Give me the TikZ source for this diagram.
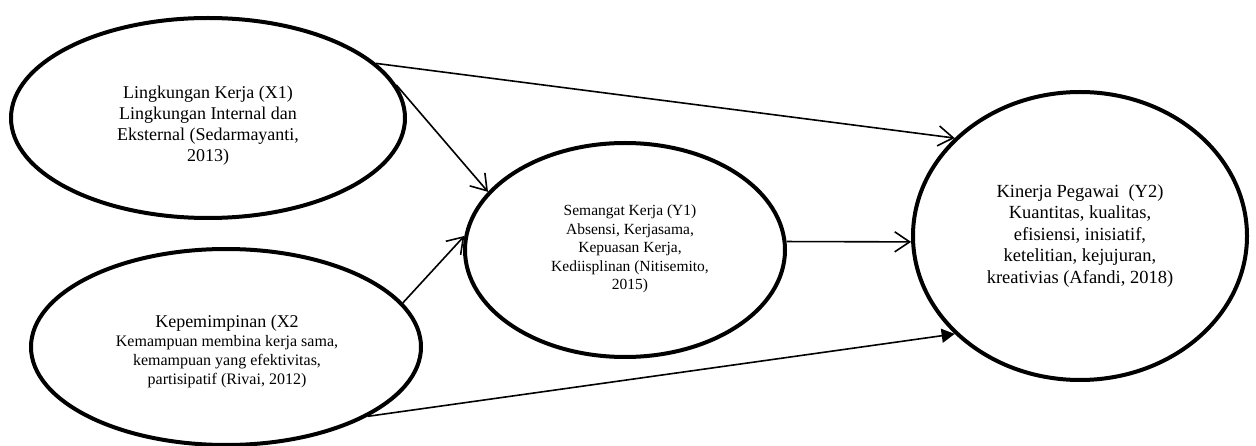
\documentclass[tikz,border=0pt]{standalone}
\usepackage{fontspec}
\setmainfont{Liberation Serif}
\usetikzlibrary{shapes.geometric,arrows.meta}
\tikzset{
  oval/.style={ellipse,draw=black,line width=4pt,inner sep=0pt,fill=white},
  lbl/.style={align=center,inner sep=0pt,text=black},
  link/.style={line width=1.6pt,-{Straight Barb[length=15pt,width=20pt,line width=1.6pt]}},
  linkfill/.style={line width=1.6pt,-{Triangle[length=13pt,width=14pt]}}
}
\begin{document}
\begin{tikzpicture}[x=1pt,y=-1pt]
\useasboundingbox (0,0) rectangle (1256,446);
% ellipses
\node[oval,minimum width=394pt,minimum height=200pt] (x1) at (208,118) {};
\node[oval,minimum width=390pt,minimum height=196pt] (x2) at (226,347) {};
\node[oval,minimum width=320pt,minimum height=214pt] (y1) at (625,250) {};
\node[oval,minimum width=334pt,minimum height=288pt] (y2) at (1080,236) {};
% texts
\node[lbl,font=\fontsize{18}{21}\selectfont] (x1t) at (208,126)
  {Lingkungan Kerja (X1)\\Lingkungan Internal dan\\Eksternal (Sedarmayanti,\\2013)};
\node[lbl,font=\fontsize{16}{19}\selectfont] (x2t) at (227,351)
  {{\fontsize{18}{20}\selectfont Kepemimpinan (X2}\\
   Kemampuan membina kerja sama,\\
   kemampuan yang efektivitas,\\
   partisipatif (Rivai, 2012)};
\node[lbl,font=\fontsize{15.5}{18.5}\selectfont] (y1t) at (630,249)
  {Semangat Kerja (Y1)\\Absensi, Kerjasama,\\Kepuasan Kerja,\\Kediisplinan (Nitisemito,\\2015)};
\node[lbl,font=\fontsize{18.5}{21.5}\selectfont] (y2t) at (1080,236)
  {Kinerja Pegawai \ (Y2)\\Kuantitas, kualitas,\\efisiensi, inisiatif,\\ketelitian, kejujuran,\\kreativias (Afandi, 2018)};
% connectors
\draw[link] (x1.18) -- (y2.142);
\draw[link] (x1.10) -- (y1.157);
\draw[link] (x2.14) -- (y1.175);
\draw[linkfill] (x2.-26) -- (y2.218);
\draw[link] (y1.3) -- (y2.182);
\end{tikzpicture}
\end{document}
